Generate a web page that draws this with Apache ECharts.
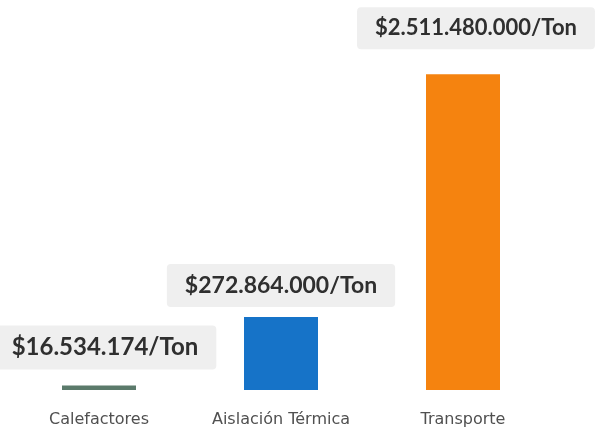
<!DOCTYPE html>
<html>
<head>
<meta charset="utf-8">
<script src="https://cdn.jsdelivr.net/npm/echarts@6/dist/echarts.min.js"></script>
<style>
html,body{margin:0;padding:0;background:#ffffff;}
#chart{width:599px;height:431px;}
</style>
</head>
<body>
<div id="chart"></div>
<script>
// Categories on the x axis
const categories = ['Calefactores', 'Aislación Térmica', 'Transporte'];
// Bar heights as drawn in the picture (millions)
const barValues = [35, 580, 2511.48];
// Value labels shown in callouts above the bars
const valueLabels = ['$16.534.174/Ton', '$272.864.000/Ton', '$2.511.480.000/Ton'];
const barColors = ['#5b7a6b', '#1673c8', '#f5830f'];

const labelFontSizes = [24, 23, 22];
const labelDistances = [16, 10, 25];
const labelOffsets = [[6, 0], [0, 0], [13, 0]];

const chart = echarts.init(document.getElementById('chart'), null, {renderer: 'canvas'});
chart.setOption({
  animation: false,
  grid: {left: 8, right: 45, top: 63, bottom: 41, containLabel: false},
  xAxis: {
    type: 'category',
    data: categories,
    axisLine: {show: false},
    axisTick: {show: false},
    axisLabel: {
      interval: 0,
      hideOverlap: false,
      margin: 22,
      fontFamily: 'DejaVu Sans',
      fontSize: 16,
      color: '#505050'
    }
  },
  yAxis: {
    type: 'value',
    min: 0,
    max: 2600,
    show: false,
    splitLine: {show: false}
  },
  series: [{
    type: 'bar',
    barWidth: 74,
    data: barValues.map((v, i) => ({
      value: v,
      itemStyle: {color: barColors[i]},
      label: {
        show: true,
        position: 'top',
        distance: labelDistances[i],
        offset: labelOffsets[i],
        formatter: valueLabels[i],
        fontFamily: 'Lato',
        fontWeight: 'bold',
        fontSize: labelFontSizes[i],
        lineHeight: labelFontSizes[i],
        color: '#2f2f2f',
        backgroundColor: '#efefef',
        borderRadius: 4,
        padding: [10, 18]
      }
    }))
  }]
});
</script>
</body>
</html>
